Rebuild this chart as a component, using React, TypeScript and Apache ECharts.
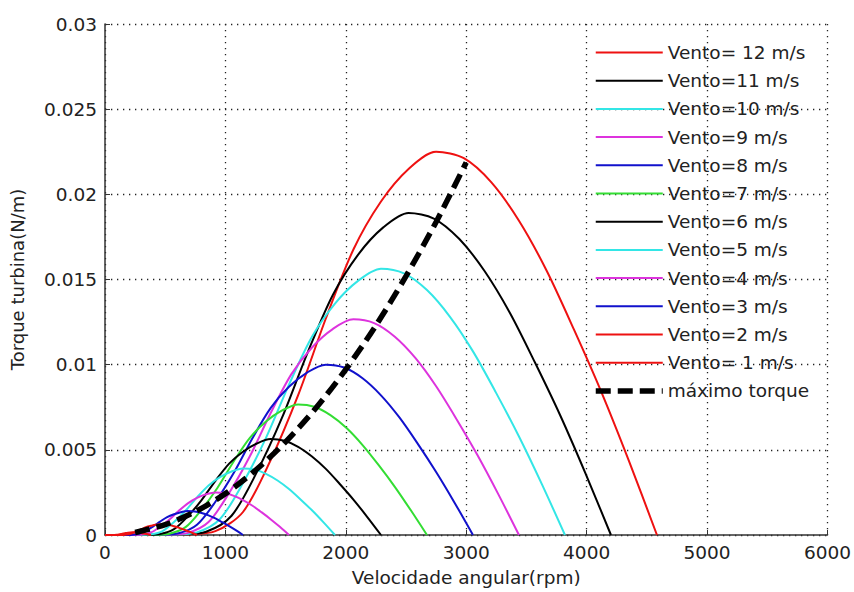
import React, { useEffect, useRef } from "react";
import * as echarts from "echarts";

// ---- data ----
const xTicks = [0, 1000, 2000, 3000, 4000, 5000, 6000];
const yTickLabels = ["0", "0.005", "0.01", "0.015", "0.02", "0.025", "0.03"];

const curveNames = [
  "Vento= 12 m/s", "Vento=11 m/s", "Vento=10 m/s", "Vento=9 m/s", "Vento=8 m/s", "Vento=7 m/s",
  "Vento=6 m/s", "Vento=5 m/s", "Vento=4 m/s", "Vento=3 m/s", "Vento=2 m/s", "Vento= 1 m/s",
];
const curveColors = [
  "#ee1111", "#000000", "#33e6e6", "#dd33dd", "#1111cc", "#33dd33",
  "#000000", "#33e6e6", "#dd33dd", "#1111cc", "#ee1111", "#ee1111",
];

const rpm12 = [0, 688, 917, 1146, 1375, 1604, 1834, 2063, 2292, 2521, 2750, 2980, 3209, 3438, 3667, 3896, 4126, 4355, 4584];
const tq12 = [0, 0.000045, 0.000225, 0.00135, 0.00439, 0.00821, 0.01271, 0.01676, 0.01958, 0.02149, 0.0225, 0.02212, 0.0207, 0.01845, 0.01553, 0.01204, 0.00833, 0.00428, 0];
const rpm11 = [0, 630, 840, 1051, 1261, 1471, 1681, 1891, 2101, 2311, 2521, 2731, 2941, 3152, 3362, 3572, 3782, 3992, 4202];
const tq11 = [0, 0.000038, 0.000189, 0.00113, 0.00369, 0.0069, 0.01068, 0.01408, 0.01645, 0.01806, 0.01891, 0.01858, 0.01739, 0.0155, 0.01305, 0.01011, 0.007, 0.00359, 0];
const rpm10 = [0, 573, 764, 955, 1146, 1337, 1528, 1719, 1910, 2101, 2292, 2483, 2674, 2865, 3056, 3247, 3438, 3629, 3820];
const tq10 = [0, 0.000031, 0.000156, 0.00094, 0.00305, 0.0057, 0.00883, 0.01164, 0.01359, 0.01492, 0.01563, 0.01536, 0.01438, 0.01281, 0.01078, 0.00836, 0.00578, 0.00297, 0];
const rpm9 = [0, 516, 688, 860, 1031, 1203, 1375, 1547, 1719, 1891, 2063, 2235, 2407, 2579, 2750, 2922, 3094, 3266, 3438];
const tq9 = [0, 0.000025, 0.000127, 0.00076, 0.00247, 0.00462, 0.00715, 0.00943, 0.01101, 0.01209, 0.01266, 0.01244, 0.01164, 0.01038, 0.00873, 0.00677, 0.00468, 0.0024, 0];
const rpm8 = [0, 458, 611, 764, 917, 1070, 1222, 1375, 1528, 1681, 1834, 1986, 2139, 2292, 2445, 2598, 2750, 2903, 3056];
const tq8 = [0, 0.00002, 0.0001, 0.0006, 0.00195, 0.00365, 0.00565, 0.00745, 0.0087, 0.00955, 0.01, 0.00983, 0.0092, 0.0082, 0.0069, 0.00535, 0.0037, 0.0019, 0];
const rpm7 = [0, 401, 535, 669, 802, 936, 1070, 1203, 1337, 1471, 1604, 1738, 1872, 2006, 2139, 2273, 2407, 2540, 2674];
const tq7 = [0, 0.000015, 0.000077, 0.00046, 0.00149, 0.00279, 0.00433, 0.0057, 0.00666, 0.00731, 0.00766, 0.00753, 0.00704, 0.00628, 0.00528, 0.0041, 0.00283, 0.00145, 0];
const rpm6 = [0, 344, 458, 573, 688, 802, 917, 1031, 1146, 1261, 1375, 1490, 1604, 1719, 1834, 1948, 2063, 2177, 2292];
const tq6 = [0, 0.000011, 0.000056, 0.00034, 0.0011, 0.00205, 0.00318, 0.00419, 0.00489, 0.00537, 0.00563, 0.00553, 0.00518, 0.00461, 0.00388, 0.00301, 0.00208, 0.00107, 0];
const rpm5 = [0, 287, 382, 478, 573, 669, 764, 860, 955, 1051, 1146, 1242, 1337, 1433, 1528, 1624, 1719, 1815, 1910];
const tq5 = [0, 0.000008, 0.000039, 0.00023, 0.00076, 0.00143, 0.00221, 0.00291, 0.0034, 0.00373, 0.00391, 0.00384, 0.00359, 0.0032, 0.0027, 0.00209, 0.00145, 0.00074, 0];
const rpm4 = [0, 229, 306, 382, 458, 535, 611, 688, 764, 840, 917, 993, 1070, 1146, 1222, 1299, 1375, 1452, 1528];
const tq4 = [0, 0.000005, 0.000025, 0.00015, 0.00049, 0.00091, 0.00141, 0.00186, 0.00218, 0.00239, 0.0025, 0.00246, 0.0023, 0.00205, 0.00173, 0.00134, 0.00093, 0.00048, 0];
const rpm3 = [0, 172, 229, 287, 344, 401, 458, 516, 573, 630, 688, 745, 802, 860, 917, 974, 1031, 1089, 1146];
const tq3 = [0, 0.000003, 0.000014, 0.000084, 0.00027, 0.00051, 0.00079, 0.00105, 0.00122, 0.00134, 0.00141, 0.00138, 0.00129, 0.00115, 0.00097, 0.00075, 0.00052, 0.00027, 0];
const rpm2 = [0, 115, 153, 191, 229, 267, 306, 344, 382, 420, 458, 497, 535, 573, 611, 649, 688, 726, 764];
const tq2 = [0, 0.000001, 0.000006, 0.000038, 0.00012, 0.00023, 0.00035, 0.00047, 0.00054, 0.0006, 0.00063, 0.00061, 0.00058, 0.00051, 0.00043, 0.00033, 0.00023, 0.00012, 0];
const rpm1 = [0, 57, 76, 96, 115, 134, 153, 172, 191, 210, 229, 248, 267, 287, 306, 325, 344, 363, 382];
const tq1 = [0, 0, 0.000002, 0.000009, 0.00003, 0.000057, 0.000088, 0.000116, 0.000136, 0.000149, 0.000156, 0.000154, 0.000144, 0.000128, 0.000108, 0.000084, 0.000058, 0.00003, 0];

const maxName = "máximo torque";
const maxRpm = [250, 500, 750, 1000, 1250, 1500, 1750, 2000, 2250, 2500, 2750, 3000];
const maxTq = [0.00015, 0.00061, 0.00137, 0.00243, 0.0038, 0.00547, 0.00744, 0.00972, 0.0123, 0.0152, 0.01838, 0.02187];

const curveRpm = [rpm12, rpm11, rpm10, rpm9, rpm8, rpm7, rpm6, rpm5, rpm4, rpm3, rpm2, rpm1];
const curveTq = [tq12, tq11, tq10, tq9, tq8, tq7, tq6, tq5, tq4, tq3, tq2, tq1];

const FONT = "DejaVu Sans";
const TXT = "#222222";

export default function App() {
  const ref = useRef<HTMLDivElement>(null);
  useEffect(() => {
    if (!ref.current) return;
    const chart = echarts.init(ref.current, null, { renderer: "svg" });
    const zip = (xs: number[], ys: number[]) => xs.map((x, i) => [x, ys[i]]);
    const series: any[] = curveNames.map((name, i) => ({
      name,
      type: "line",
      data: zip(curveRpm[i], curveTq[i]),
      smooth: 0.3,
      symbol: "none",
      lineStyle: { color: curveColors[i], width: 2 },
      itemStyle: { color: curveColors[i] },
      clip: true,
    }));
    series.push({
      name: maxName,
      type: "line",
      data: zip(maxRpm, maxTq),
      smooth: 0.3,
      symbol: "none",
      lineStyle: { color: "#000", width: 5.5, type: [15, 7] },
      itemStyle: { color: "#000" },
      z: 5,
    });
    const gridLine = { show: true, lineStyle: { color: "#222", width: 1.3, type: [1.3, 4.7] } };
    chart.setOption({
      animation: false,
      backgroundColor: "#ffffff",
      grid: { left: 105, right: 25, top: 24, bottom: 53, containLabel: false },
      legend: {
        orient: "vertical",
        left: 593,
        top: 42.5,
        padding: 0,
        itemWidth: 67,
        itemHeight: 20,
        itemGap: 8.2,
        data: [...curveNames, maxName],
        itemStyle: { opacity: 0, color: "rgba(0,0,0,0)", borderWidth: 0 },
        lineStyle: { width: "inherit" },
        textStyle: { fontFamily: FONT, fontSize: 18.5, color: TXT, lineHeight: 20 },
        selectedMode: false,
      },
      xAxis: {
        type: "value",
        min: xTicks[0],
        max: xTicks[xTicks.length - 1],
        interval: 1000,
        name: "Velocidade angular(rpm)",
        nameLocation: "middle",
        nameGap: 33,
        nameTextStyle: { fontFamily: FONT, fontSize: 18.5, color: TXT },
        axisLine: { show: true, lineStyle: { color: "#333", width: 1.5 } },
        axisTick: { show: true, inside: true, length: 5, lineStyle: { color: "#333" } },
        axisLabel: {
          fontFamily: FONT,
          fontSize: 18.5,
          color: TXT,
          margin: 8,
          formatter: (v: number) => String(v),
        },
        splitLine: gridLine,
      },
      yAxis: {
        type: "value",
        min: 0,
        max: 0.03,
        interval: 0.005,
        name: "Torque turbina(N/m)",
        nameLocation: "middle",
        nameRotate: 90,
        nameGap: 79,
        nameTextStyle: { fontFamily: FONT, fontSize: 18, color: TXT },
        axisLine: { show: true, lineStyle: { color: "#333", width: 1.5 } },
        axisTick: { show: true, inside: true, length: 5, lineStyle: { color: "#333" } },
        axisLabel: {
          fontFamily: FONT,
          fontSize: 18.5,
          color: TXT,
          margin: 8,
          formatter: (v: number) => yTickLabels[Math.round(v / 0.005)] ?? "",
        },
        splitLine: gridLine,
      },
      series,
    });
    return () => chart.dispose();
  }, []);
  return (
    <div
      ref={ref}
      style={{ position: "fixed", left: 0, top: 0, width: 854, height: 592, background: "#fff" }}
    />
  );
}
